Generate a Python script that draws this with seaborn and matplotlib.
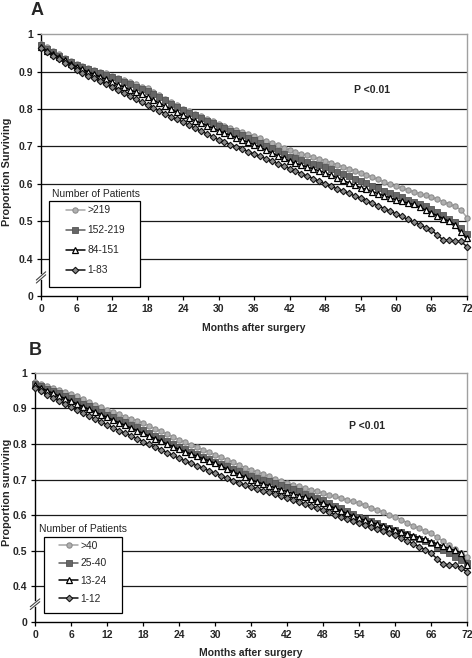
import matplotlib
matplotlib.use("Agg")
import matplotlib.pyplot as plt
from matplotlib.patches import Rectangle
import seaborn as sns

# -----------------------------
# Data
# -----------------------------
months = list(range(0, 73))

# Panel A - Number of Patients (hospital volume)
a_gt219 = [0.975, 0.965, 0.955, 0.946, 0.937, 0.928, 0.920, 0.915, 0.910, 0.905, 0.900, 0.895,
           0.889, 0.883, 0.877, 0.872, 0.866, 0.860, 0.855, 0.846, 0.837, 0.828, 0.819, 0.810,
           0.801, 0.794, 0.788, 0.781, 0.774, 0.767, 0.760, 0.755, 0.750, 0.744, 0.739, 0.733,
           0.728, 0.722, 0.715, 0.709, 0.703, 0.696, 0.690, 0.685, 0.681, 0.676, 0.671, 0.667,
           0.662, 0.657, 0.651, 0.646, 0.641, 0.635, 0.630, 0.624, 0.618, 0.612, 0.605, 0.599,
           0.593, 0.588, 0.584, 0.579, 0.574, 0.570, 0.565, 0.559, 0.552, 0.546, 0.540, 0.530,
           0.510]
a_152_219 = [0.970, 0.961, 0.952, 0.943, 0.935, 0.926, 0.918, 0.912, 0.907, 0.901, 0.896, 0.890,
             0.885, 0.879, 0.873, 0.867, 0.860, 0.854, 0.848, 0.840, 0.831, 0.823, 0.814, 0.806,
             0.797, 0.790, 0.783, 0.776, 0.769, 0.762, 0.755, 0.749, 0.742, 0.736, 0.730, 0.723,
             0.717, 0.710, 0.702, 0.695, 0.688, 0.680, 0.673, 0.668, 0.664, 0.659, 0.654, 0.650,
             0.645, 0.639, 0.632, 0.626, 0.620, 0.613, 0.607, 0.601, 0.595, 0.589, 0.582, 0.576,
             0.570, 0.564, 0.558, 0.552, 0.546, 0.540, 0.534, 0.525, 0.516, 0.507, 0.498, 0.482,
             0.467]
a_84_151 = [0.965, 0.956, 0.947, 0.939, 0.930, 0.921, 0.913, 0.906, 0.899, 0.893, 0.886, 0.879,
            0.872, 0.865, 0.859, 0.852, 0.845, 0.839, 0.832, 0.824, 0.816, 0.808, 0.799, 0.791,
            0.783, 0.776, 0.769, 0.763, 0.756, 0.749, 0.742, 0.736, 0.730, 0.723, 0.717, 0.711,
            0.705, 0.698, 0.690, 0.683, 0.675, 0.668, 0.660, 0.655, 0.650, 0.645, 0.640, 0.635,
            0.630, 0.623, 0.617, 0.610, 0.603, 0.597, 0.590, 0.585, 0.579, 0.574, 0.568, 0.563,
            0.557, 0.553, 0.549, 0.545, 0.537, 0.530, 0.522, 0.515, 0.507, 0.500, 0.490, 0.470,
            0.455]
a_1_83 = [0.962, 0.952, 0.943, 0.933, 0.924, 0.914, 0.905, 0.897, 0.889, 0.882, 0.874, 0.866,
          0.858, 0.850, 0.842, 0.834, 0.826, 0.818, 0.810, 0.803, 0.795, 0.788, 0.780, 0.773,
          0.765, 0.757, 0.749, 0.741, 0.734, 0.726, 0.718, 0.712, 0.705, 0.699, 0.693, 0.686,
          0.680, 0.674, 0.667, 0.661, 0.654, 0.648, 0.641, 0.634, 0.627, 0.621, 0.614, 0.607,
          0.600, 0.594, 0.587, 0.581, 0.575, 0.568, 0.562, 0.555, 0.548, 0.541, 0.534, 0.527,
          0.520, 0.513, 0.505, 0.498, 0.491, 0.483, 0.476, 0.463, 0.450, 0.449, 0.447, 0.446,
          0.432]

# Panel B - Number of Patients (surgeon volume)
b_gt40 = [0.973, 0.968, 0.962, 0.957, 0.952, 0.946, 0.941, 0.934, 0.926, 0.919, 0.911, 0.904,
          0.896, 0.890, 0.884, 0.877, 0.871, 0.865, 0.859, 0.851, 0.843, 0.836, 0.828, 0.820,
          0.812, 0.805, 0.798, 0.791, 0.784, 0.777, 0.770, 0.763, 0.756, 0.749, 0.741, 0.734,
          0.727, 0.721, 0.715, 0.709, 0.702, 0.696, 0.690, 0.685, 0.681, 0.676, 0.671, 0.667,
          0.662, 0.657, 0.653, 0.648, 0.643, 0.639, 0.634, 0.628, 0.621, 0.615, 0.609, 0.602,
          0.596, 0.588, 0.579, 0.570, 0.563, 0.556, 0.549, 0.538, 0.527, 0.516, 0.505, 0.495,
          0.484]
b_25_40 = [0.970, 0.963, 0.956, 0.950, 0.943, 0.936, 0.929, 0.921, 0.913, 0.906, 0.898, 0.890,
           0.882, 0.875, 0.868, 0.861, 0.854, 0.847, 0.840, 0.832, 0.824, 0.817, 0.809, 0.801,
           0.793, 0.786, 0.779, 0.772, 0.765, 0.758, 0.751, 0.744, 0.737, 0.730, 0.723, 0.716,
           0.709, 0.704, 0.699, 0.695, 0.690, 0.685, 0.680, 0.674, 0.668, 0.661, 0.655, 0.649,
           0.643, 0.635, 0.627, 0.620, 0.612, 0.604, 0.596, 0.590, 0.584, 0.577, 0.571, 0.565,
           0.559, 0.553, 0.546, 0.540, 0.534, 0.527, 0.521, 0.512, 0.502, 0.493, 0.484, 0.475,
           0.466]
b_13_24 = [0.965, 0.958, 0.950, 0.943, 0.935, 0.928, 0.920, 0.913, 0.905, 0.898, 0.890, 0.883,
           0.875, 0.868, 0.860, 0.853, 0.845, 0.838, 0.830, 0.823, 0.815, 0.808, 0.800, 0.793,
           0.785, 0.779, 0.772, 0.766, 0.759, 0.753, 0.746, 0.738, 0.730, 0.722, 0.715, 0.707,
           0.699, 0.694, 0.688, 0.683, 0.677, 0.672, 0.666, 0.661, 0.655, 0.650, 0.645, 0.639,
           0.634, 0.627, 0.620, 0.612, 0.605, 0.598, 0.591, 0.586, 0.580, 0.575, 0.570, 0.564,
           0.559, 0.554, 0.548, 0.543, 0.537, 0.532, 0.526, 0.520, 0.513, 0.507, 0.501, 0.495,
           0.460]
b_1_12 = [0.957, 0.948, 0.939, 0.930, 0.921, 0.912, 0.903, 0.895, 0.887, 0.879, 0.870, 0.862,
          0.854, 0.846, 0.838, 0.831, 0.823, 0.815, 0.807, 0.799, 0.791, 0.784, 0.776, 0.768,
          0.760, 0.753, 0.746, 0.739, 0.732, 0.725, 0.718, 0.711, 0.704, 0.697, 0.690, 0.685,
          0.680, 0.675, 0.669, 0.664, 0.659, 0.653, 0.648, 0.643, 0.637, 0.632, 0.626, 0.621,
          0.615, 0.609, 0.602, 0.596, 0.590, 0.583, 0.577, 0.572, 0.566, 0.561, 0.556, 0.550,
          0.545, 0.537, 0.528, 0.520, 0.512, 0.503, 0.493, 0.478, 0.462, 0.461, 0.460, 0.452,
          0.441]

a_labels = [">219", "152-219", "84-151", "1-83"]
b_labels = [">40", "25-40", "13-24", "1-12"]

y_ticks = [0.3, 0.4, 0.5, 0.6, 0.7, 0.8, 0.9, 1.0]
y_ticklabels = ["0", "0.4", "0.5", "0.6", "0.7", "0.8", "0.9", "1"]
x_ticks = list(range(0, 73, 6))

# -----------------------------
# Styling
# -----------------------------
sns.set_style("white")
plt.rcParams["font.family"] = ["Liberation Sans", "DejaVu Sans"]

styles = [
    dict(color="#a6a6a6", marker="o", markersize=3.8, markerfacecolor="#b0b0b0",
         markeredgecolor="#8c8c8c", markeredgewidth=0.8),
    dict(color="#5c5c5c", marker="s", markersize=4.2, markerfacecolor="#666666",
         markeredgecolor="#555555", markeredgewidth=0.6),
    dict(color="#000000", marker="^", markersize=4.6, markerfacecolor="white",
         markeredgecolor="#000000", markeredgewidth=0.9),
    dict(color="#111111", marker="D", markersize=3.3, markerfacecolor="#8a8a8a",
         markeredgecolor="#111111", markeredgewidth=0.8),
]


def draw_panel(ax, series, labels, ylabel, ylabel_pos, xlabel_y, legend_box, legend_anchor,
               title_pos, p_pos, rowspace):
    for vals, lab, st in zip(series, labels, styles):
        sns.lineplot(x=months, y=vals, ax=ax, label=lab, linewidth=1.1,
                     clip_on=False, zorder=3, **st)

    ax.set_xlim(0, 72)
    ax.set_ylim(0.3, 1.0)
    ax.set_xticks(x_ticks)
    ax.set_yticks(y_ticks)
    ax.set_yticklabels(y_ticklabels)
    ax.tick_params(axis="both", direction="out", length=3, width=0.9, color="black",
                   labelsize=7.5, pad=2.5, left=True, bottom=True)
    for t in ax.get_xticklabels() + ax.get_yticklabels():
        t.set_fontweight("bold")

    # horizontal grid lines
    for yv in [0.4, 0.5, 0.6, 0.7, 0.8, 0.9]:
        ax.axhline(yv, color="#1a1a1a", linewidth=0.9, zorder=1)

    for side in ["top", "right"]:
        ax.spines[side].set_visible(True)
        ax.spines[side].set_color("#a0a0a0")
        ax.spines[side].set_linewidth(1.0)
    for side in ["left", "bottom"]:
        ax.spines[side].set_color("black")
        ax.spines[side].set_linewidth(1.0)

    ax.set_xlabel("Months after surgery", fontsize=7.5, fontweight="bold")
    ax.xaxis.set_label_coords(0.5, xlabel_y)
    ax.set_ylabel(ylabel, fontsize=7.8, fontweight="bold")
    ax.yaxis.set_label_coords(*ylabel_pos)

    # axis break mark
    tr = ax.get_yaxis_transform()
    ax.plot([-0.012, 0.012], [0.351, 0.351], transform=tr, color="white",
            linewidth=4, clip_on=False, zorder=4, solid_capstyle="butt")
    ax.plot([-0.011, 0.011], [0.343, 0.365], transform=tr, color="#444444",
            linewidth=0.8, clip_on=False, zorder=5)
    ax.plot([-0.011, 0.011], [0.335, 0.357], transform=tr, color="#444444",
            linewidth=0.8, clip_on=False, zorder=5)

    # legend
    x0, y0, w, h = legend_box
    ax.add_patch(Rectangle((x0, y0), w, h, transform=ax.transAxes, facecolor="white",
                           edgecolor="black", linewidth=0.9, zorder=6))
    leg = ax.legend(loc="upper left", bbox_to_anchor=legend_anchor, frameon=False,
                    fontsize=7.4, handlelength=1.9, handletextpad=0.2,
                    labelspacing=rowspace, borderpad=0, borderaxespad=0)
    leg.set_zorder(7)
    ax.text(title_pos[0], title_pos[1], "Number of Patients", transform=ax.transAxes,
            ha="center", va="center", fontsize=7.4, zorder=7)

    ax.text(p_pos[0], p_pos[1], "P <0.01", transform=ax.transAxes, ha="center",
            va="center", fontsize=7.5, fontweight="bold")


fig = plt.figure(figsize=(4.72, 6.58), dpi=100)
ax_a = fig.add_axes([0.0869, 0.550, 0.9025, 0.398])
ax_b = fig.add_axes([0.0742, 0.0547, 0.9153, 0.3786])

draw_panel(ax_a, [a_gt219, a_152_219, a_84_151, a_1_83], a_labels,
           "Proportion Surviving", (-0.068, 0.473), -0.103,
           (0.019, 0.034, 0.213, 0.329), (0.058, 0.347),
           (0.129, 0.389), (0.777, 0.786), 0.98)
draw_panel(ax_b, [b_gt40, b_25_40, b_13_24, b_1_12], b_labels,
           "Proportion surviving", (-0.053, 0.522), -0.104,
           (0.021, 0.036, 0.180, 0.305), (0.055, 0.327),
           (0.111, 0.373), (0.769, 0.787), 0.75)

fig.text(0.064, 0.997, "A", fontsize=13, fontweight="bold", ha="left", va="top")
fig.text(0.061, 0.480, "B", fontsize=13, fontweight="bold", ha="left", va="top")

plt.savefig("out.png", dpi=100)
